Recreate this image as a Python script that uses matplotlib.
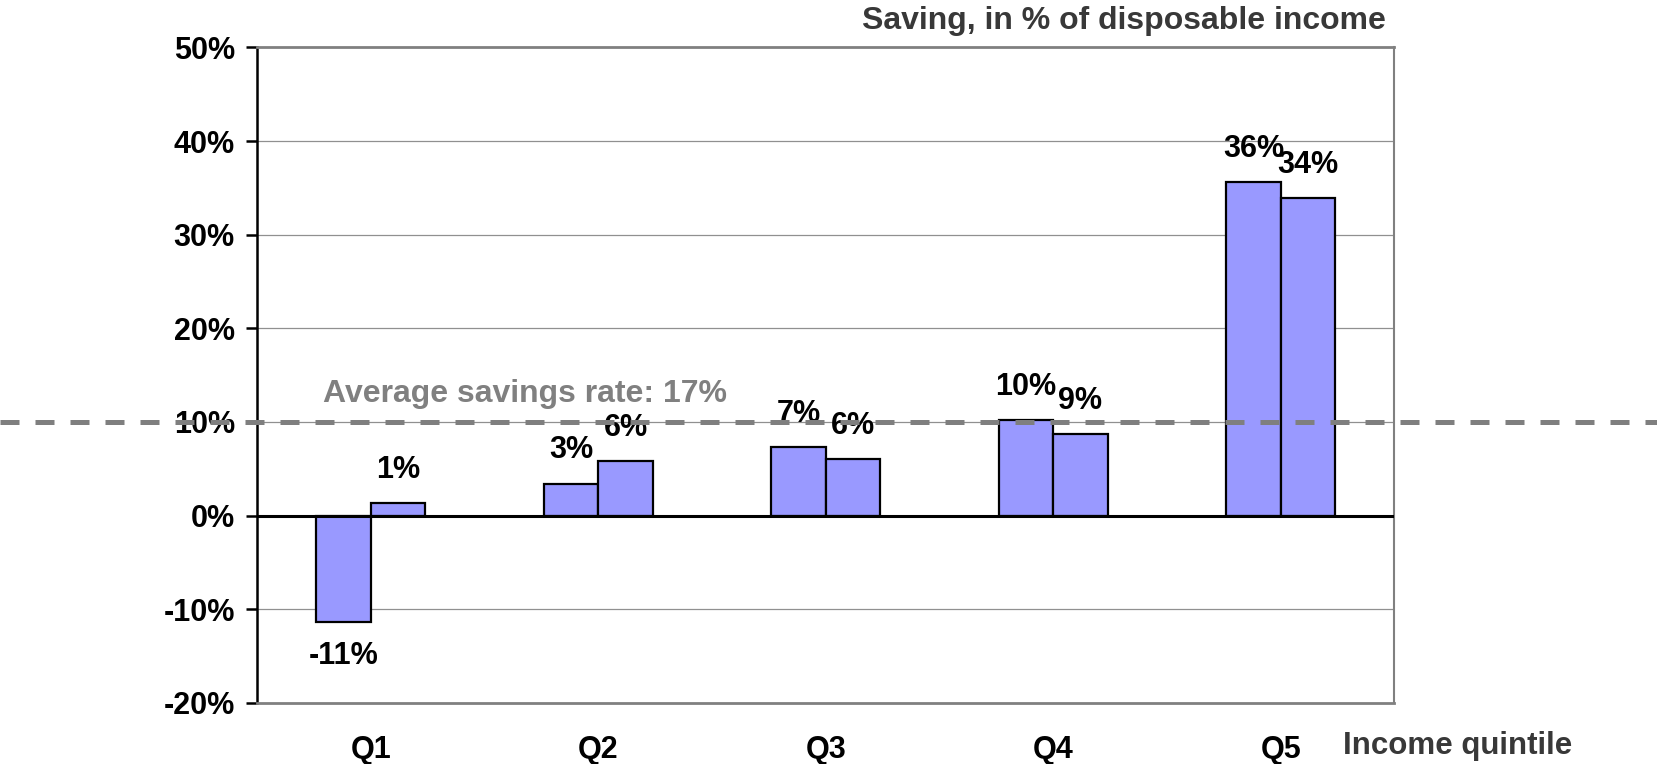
import matplotlib
matplotlib.use("Agg")
import matplotlib.pyplot as plt
import matplotlib.transforms as mtransforms
import numpy as np

plt.rcParams['font.family'] = ['Liberation Sans', 'DejaVu Sans']
plt.rcParams['font.weight'] = 'bold'

categories = ["Q1", "Q2", "Q3", "Q4", "Q5"]
series_a = [-11.4, 3.4, 7.3, 10.2, 35.6]
series_b = [1.3, 5.8, 6.0, 8.7, 33.9]
labels_a = ["-11%", "3%", "7%", "10%", "36%"]
labels_b = ["1%", "6%", "6%", "9%", "34%"]
yticks = [-20, -10, 0, 10, 20, 30, 40, 50]
ytick_labels = ["-20%", "-10%", "0%", "10%", "20%", "30%", "40%", "50%"]
avg_line = 10
avg_text = "Average savings rate: 17%"

fig = plt.figure(figsize=(16.58, 7.64), dpi=100)
ax = fig.add_axes([0.155, 0.080, 0.686, 0.858])

x = np.arange(len(categories))
w = 0.24
face = "#9999FF"
ba = ax.bar(x - w / 2, series_a, w, color=face, edgecolor="black", linewidth=1.6, zorder=3)
bb = ax.bar(x + w / 2, series_b, w, color=face, edgecolor="black", linewidth=1.6, zorder=3)

for bars, labs in ((ba, labels_a), (bb, labels_b)):
    for rect, lab in zip(bars, labs):
        h = rect.get_height()
        xc = rect.get_x() + rect.get_width() / 2
        off = 24 if h >= 0 else -24
        ax.annotate(lab, (xc, h), xytext=(0, off), textcoords="offset points",
                    ha="center", va="center", fontsize=22, fontweight="bold",
                    color="black", zorder=5)

ax.set_xlim(-0.5, len(categories) - 0.5)
ax.set_ylim(-20, 50)
ax.set_yticks(yticks)
ax.set_yticklabels(ytick_labels, fontsize=22, fontweight="bold")
ax.set_xticks(x)
ax.set_xticklabels(categories, fontsize=22, fontweight="bold")
ax.tick_params(axis="x", length=0, pad=23)
ax.tick_params(axis="y", length=8, width=1.8, direction="out", pad=8, color="black")

for yv in [-10, 10, 20, 30, 40]:
    ax.axhline(yv, color="#909090", linewidth=0.9, zorder=1)
ax.axhline(0, color="black", linewidth=2.2, zorder=4)

ax.spines["left"].set_color("black")
ax.spines["left"].set_linewidth(1.8)
for s in ("top", "right", "bottom"):
    ax.spines[s].set_color("#808080")
    ax.spines[s].set_linewidth(2.0)
ax.spines["right"].set_linewidth(1.5)

trans = mtransforms.blended_transform_factory(fig.transFigure, ax.transData)
ax.plot([0, 1], [avg_line, avg_line], transform=trans, color="#7F7F7F",
        linewidth=3.6, dashes=(3.8, 3.2), clip_on=False, zorder=6)
ax.text(0.3165, avg_line + 3.0, avg_text, transform=trans, ha="center", va="center",
        fontsize=23, fontweight="bold", color="#808080")

fig.text(0.836, 0.972, "Saving, in % of disposable income", ha="right", va="center",
         fontsize=23, fontweight="bold", color="#383838")
fig.text(0.879, 0.023, "Income quintile", ha="center", va="center",
         fontsize=22.5, fontweight="bold", color="#383838")

fig.savefig("out.png", dpi=100)
